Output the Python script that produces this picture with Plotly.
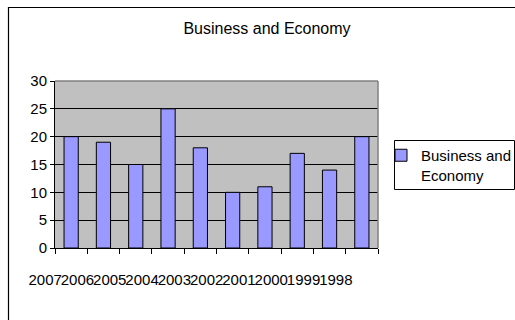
import plotly.graph_objects as go

categories = ["2007", "2006", "2005", "2004", "2003", "2002", "2001", "2000", "1999", "1998"]
values = [20, 19, 15, 25, 18, 10, 11, 17, 14, 20]
series_name = "Business and<br>Economy"
title_text = "Business and Economy"

W, H = 515, 320
L, R, T, B = 55, 137, 81, 72
pw, ph = W - L - R, H - T - B

def px_x(x):
    return (x - L) / pw

def px_y(y):
    return (H - B - y) / ph

FONT = "Liberation Sans, Arial, sans-serif"

fig = go.Figure()
fig.add_trace(go.Bar(
    x=categories, y=values, name=series_name,
    marker=dict(color="#9999FF", line=dict(color="#000000", width=1)),
))

fig.update_layout(
    width=W, height=H,
    margin=dict(l=L, r=R, t=T, b=B, autoexpand=False),
    paper_bgcolor="white",
    plot_bgcolor="#C0C0C0",
    bargap=0.56,
    font=dict(family=FONT, size=15, color="black"),
    title=dict(text=title_text, font=dict(family=FONT, size=16, color="black"),
               xref="container", yref="container", x=267 / W, xanchor="center",
               y=1 - 28 / H, yanchor="middle"),
    showlegend=True,
    legend=dict(x=px_x(381), y=px_y(139), xanchor="left", yanchor="top",
                bgcolor="rgba(0,0,0,0)", borderwidth=0, valign="top",
                font=dict(family=FONT, size=15, color="black")),
    xaxis=dict(type="category", showline=True, linecolor="black", linewidth=1,
               ticks="outside", ticklen=5, tickcolor="black", tickson="boundaries",
               tickangle=0, ticklabelshift=-26, ticklabelstandoff=18, showgrid=False,
               tickfont=dict(family=FONT, size=15, color="black")),
    yaxis=dict(range=[0, 30], dtick=5, showline=True, linecolor="black", linewidth=1,
               ticks="outside", ticklen=4, tickcolor="black", showgrid=True,
               gridcolor="black", gridwidth=1, zeroline=False,
               tickfont=dict(family=FONT, size=15, color="black")),
    shapes=[
        dict(type="line", xref="paper", yref="paper", x0=0, x1=1, y0=1, y1=1,
             line=dict(color="#808080", width=1.5)),
        dict(type="line", xref="paper", yref="paper", x0=1, x1=1, y0=0, y1=1,
             line=dict(color="#808080", width=1.5)),
        dict(type="rect", xref="paper", yref="paper",
             x0=px_x(394.5), x1=px_x(514.5), y0=px_y(189.5), y1=px_y(140.5),
             line=dict(color="black", width=1)),
        dict(type="rect", xref="paper", yref="paper",
             x0=px_x(8.5), x1=px_x(530), y0=px_y(340), y1=px_y(7.5),
             line=dict(color="black", width=1.2)),
    ],
)

fig.write_html("out.html")
